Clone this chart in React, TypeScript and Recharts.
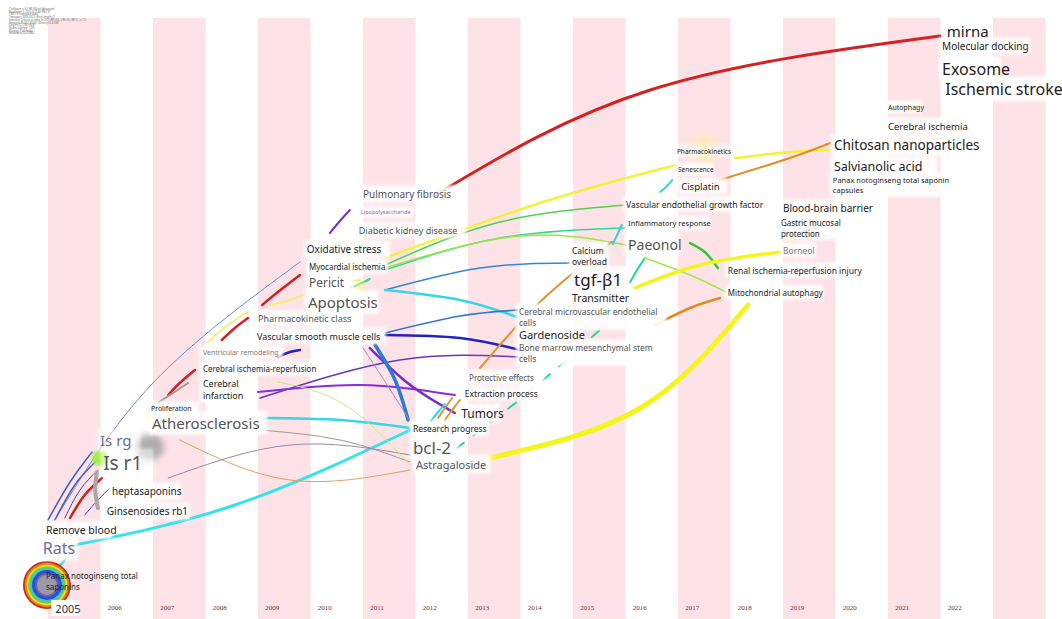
import React from "react";
import { ComposedChart, XAxis, YAxis, Line, Scatter, ReferenceArea } from "recharts";

const W = 1062;
const H = 619;

// time zones (one column per year)
const stripeYears = [2005, 2007, 2009, 2011, 2013, 2015, 2017, 2019, 2021, 2023];
const yearTicks = [2005, 2006, 2007, 2008, 2009, 2010, 2011, 2012, 2013, 2014, 2015, 2016, 2017, 2018, 2019, 2020, 2021, 2022];

const infoLines = [
  "CiteSpace, v. 6.1.R6 (64-bit) Advanced",
  "November 5, 2022 3:12:40 PM CST",
  "CNKI: D:\\citespace\\data",
  "Timespan: 2005-2022 (Slice Length=1)",
  "Selection Criteria: g-index (k=25), LRF=3.0, L/N=10, LBY=5, e=1.0",
  "Network: N=322, E=561 (Density=0.0108)",
  "Largest CC: 290 (90%)",
  "Nodes Labeled: 1.0%",
  "Pruning: Pathfinder",
  "Modularity Q=0.5862",
];

const D = "#222";
const G = "#555";
const L = "#6b6b99";
const M = "#7a7a7a";

// [text, year, row, font size, colour, background opacity]
const keywords: [string, number, number, number, string, number][] = [
  ["mirna", 2022.12, 31, 15, D, 0.9],
  ["Molecular docking", 2022.03, 46, 10, D, 0.9],
  ["Exosome", 2022.03, 69, 16, D, 0.9],
  ["Ischemic stroke", 2022.09, 89, 16, D, 0.9],
  ["Autophagy", 2021.0, 107, 7, D, 0.9],
  ["Cerebral ischemia", 2021.0, 126, 9.5, D, 0.9],
  ["Chitosan nanoparticles", 2019.97, 145, 13.5, D, 0.9],
  ["Salvianolic acid", 2019.97, 166, 12.5, D, 0.9],
  ["Panax notoginseng total saponin\ncapsules", 2019.95, 180, 7.5, D, 0.9],
  ["Blood-brain barrier", 2019.0, 208, 10, D, 0.9],
  ["Gastric mucosal\nprotection", 2018.96, 222, 8, D, 0.9],
  ["Borneol", 2019.0, 250, 8.5, M, 0.9],
  ["Renal ischemia-reperfusion injury", 2017.95, 270, 8.5, D, 0.9],
  ["Mitochondrial autophagy", 2017.95, 292, 8, D, 0.9],
  ["Pharmacokinetics", 2016.98, 151, 6.5, D, 0.6],
  ["Senescence", 2017.0, 169, 6.5, D, 0.9],
  ["Cisplatin", 2017.06, 186, 9.5, D, 0.9],
  ["Vascular endothelial growth factor", 2016.01, 204, 8.5, D, 0.9],
  ["Inflammatory response", 2016.05, 223, 7.5, D, 0.9],
  ["Paeonol", 2016.05, 244, 14, G, 0.9],
  ["Calcium\noverload", 2014.98, 250, 8.5, D, 0.9],
  ["tgf-β1", 2015.02, 279, 17, D, 0.9],
  ["Transmitter", 2014.98, 298, 10.5, D, 0.9],
  ["Cerebral microvascular endothelial\ncells", 2013.97, 311, 8.5, G, 0.9],
  ["Gardenoside", 2013.97, 334, 11, D, 0.9],
  ["Bone marrow mesenchymal stem\ncells", 2013.97, 347, 8.5, G, 0.9],
  ["Protective effects", 2013.02, 377, 8, G, 0.9],
  ["Extraction process", 2012.94, 393, 8.5, D, 0.9],
  ["Tumors", 2012.87, 413, 12, D, 0.9],
  ["Research progress", 2011.95, 428, 8.5, D, 0.9],
  ["bcl-2", 2011.95, 447, 17, G, 0.9],
  ["Astragaloside", 2012.01, 464, 11, G, 0.9],
  ["Pulmonary fibrosis", 2011.0, 194, 10, G, 0.9],
  ["Lipopolysaccharide", 2010.96, 212, 5.5, "#8a6aa8", 0.9],
  ["Diabetic kidney disease", 2010.92, 230, 9, G, 0.9],
  ["Oxidative stress", 2009.93, 249, 10, D, 0.9],
  ["Myocardial ischemia", 2009.97, 266, 8, D, 0.9],
  ["Pericit", 2009.97, 282, 12, G, 0.9],
  ["Apoptosis", 2009.95, 302, 15, G, 0.9],
  ["Pharmacokinetic class", 2009.0, 318, 9, G, 0.9],
  ["Vascular smooth muscle cells", 2008.98, 336, 9, D, 0.9],
  ["Ventricular remodeling", 2007.95, 352, 7, M, 0.9],
  ["Cerebral ischemia-reperfusion", 2007.95, 368, 8, D, 0.9],
  ["Cerebral\ninfarction", 2007.95, 383, 9, D, 0.9],
  ["Proliferation", 2006.96, 408, 7, D, 0.9],
  ["Atherosclerosis", 2006.98, 423, 15, G, 0.9],
  ["Is rg", 2005.99, 440, 15, L, 0.5],
  ["Is r1", 2006.05, 463, 19, G, 0.5],
  ["heptasaponins", 2006.22, 491, 10, D, 0.9],
  ["Ginsenosides rb1", 2006.12, 511, 10, D, 0.9],
  ["Remove blood", 2004.96, 530, 10.5, D, 0.9],
  ["Rats", 2004.9, 548, 16, L, 0.9],
  ["Panax notoginseng total\nsaponins", 2004.96, 575, 8, D, 0],
];

// node glyphs: [kind, year, row, radius]
const glyphs: [string, number, number, number][] = [
  ["glow", 2007.1, 415, 16],
  ["glow", 2017.5, 150, 22],
  ["glow", 2019.13, 248, 13],
  ["glow", 2013.42, 458, 8],
  ["glow", 2010.94, 287, 9],
  ["gray", 2006.94, 447, 13],
  ["lime", 2005.99, 458, 8],
  ["ring", 2004.98, 585, 24],
];

// co-occurrence links: colour, width, three points [year, row] read along the arc
type Link = { c: string; w: number; p: [number, number][]; d?: string };
const links: Link[] = [
  { c: "#d42121", w: 3, p: [[2012.35, 196], [2016.47, 90], [2021.99, 36]] },
  { c: "#35e3ea", w: 3, p: [[2005.32, 547], [2008.56, 505], [2011.9, 430]] },
  { c: "#f5f51e", w: 5, p: [[2013.42, 458], [2016.28, 408], [2018.33, 305]] },
  { c: "#f2f23a", w: 2.5, p: [[2011.42, 258], [2014.37, 203], [2016.96, 165]] },
  { c: "#f2f23a", w: 2.5, p: [[2018.09, 158], [2019.13, 152], [2019.9, 150]] },
  { c: "#e58a1f", w: 2, p: [[2017.8, 180], [2019.13, 158], [2019.9, 143]] },
  { c: "#e58a1f", w: 2, p: [[2021.0, 128], [2021.32, 125], [2021.61, 122]] },
  { c: "#4fd14f", w: 1.5, p: [[2011.42, 265], [2013.61, 222], [2016.01, 205]] },
  { c: "#2fd6a0", w: 1.5, p: [[2011.42, 270], [2013.61, 238], [2015.99, 228]] },
  { c: "#9be63c", w: 1.5, p: [[2011.42, 268], [2013.99, 236], [2016.09, 246]] },
  { c: "#3585d5", w: 1.5, p: [[2011.42, 290], [2013.23, 268], [2014.94, 263]] },
  { c: "#33d6ea", w: 2.5, p: [[2011.42, 290], [2012.85, 300], [2013.99, 318]] },
  { c: "#3575d2", w: 1.5, p: [[2011.42, 333], [2012.85, 316], [2013.99, 310]] },
  { c: "#2222c4", w: 2.5, p: [[2011.42, 335], [2012.85, 338], [2013.99, 350]] },
  { c: "#6a35c0", w: 1.5, p: [[2009.04, 398], [2011.7, 360], [2013.99, 357]] },
  { c: "#8a2be0", w: 2, p: [[2009.0, 392], [2010.94, 385], [2012.75, 395]] },
  { c: "#7a2ac8", w: 2.5, p: [[2011.13, 348], [2011.9, 385], [2012.75, 413]] },
  { c: "#2a7ad8", w: 3.5, p: [[2011.23, 345], [2011.61, 380], [2011.86, 420]] },
  { c: "#a090c0", w: 1, p: [[2011.0, 348], [2011.4, 380], [2011.86, 418]] },
  { c: "#33d6ea", w: 2.5, p: [[2009.04, 418], [2010.56, 420], [2011.9, 428]] },
  { c: "#9a9a9a", w: 1, p: [[2009.04, 430], [2010.56, 440], [2011.9, 462]] },
  { c: "#e0a060", w: 1, p: [[2007.51, 440], [2009.61, 480], [2011.9, 470]] },
  { c: "#9a8aa8", w: 1, p: [[2007.29, 478], [2009.61, 445], [2011.9, 455]] },
  { c: "#5d8fd8", w: 1, p: [[2005.13, 520], [2007.0, 383], [2009.8, 262]] },
  { c: "#c8e68c", w: 1, p: [[2009.38, 382], [2010.66, 405], [2011.9, 465]] },
  { c: "#22d6a0", w: 2, p: [[2012.43, 462], [2014.09, 395], [2015.51, 330]], d: "10 12" },
  { c: "#22d6a0", w: 2, p: [[2016.09, 282], [2016.22, 270], [2016.37, 258]] },
  { c: "#e39030", w: 2, p: [[2013.23, 368], [2014.37, 302], [2015.74, 242]] },
  { c: "#e38a20", w: 2.5, p: [[2016.56, 325], [2017.23, 308], [2017.8, 298]] },
  { c: "#2fc82f", w: 2.5, p: [[2017.23, 243], [2017.51, 252], [2017.76, 268]] },
  { c: "#a5e64a", w: 1.5, p: [[2016.37, 258], [2017.23, 275], [2017.95, 293]] },
  { c: "#f5f51e", w: 3.5, p: [[2016.18, 288], [2017.42, 265], [2018.94, 252]] },
  { c: "#30e0c0", w: 2, p: [[2016.66, 192], [2016.77, 187], [2016.89, 180]] },
  { c: "#30d0e0", w: 2, p: [[2015.76, 244], [2015.85, 234], [2015.93, 225]] },
  { c: "#d02020", w: 2.5, p: [[2009.08, 305], [2009.38, 292], [2009.8, 275]] },
  { c: "#d02020", w: 2.5, p: [[2008.31, 340], [2008.56, 328], [2008.81, 318]] },
  { c: "#f0f07a", w: 2, p: [[2008.05, 342], [2008.43, 325], [2008.81, 312]] },
  { c: "#d02020", w: 2.5, p: [[2007.29, 395], [2007.51, 383], [2007.8, 370]] },
  { c: "#9a9a9a", w: 2, p: [[2006.94, 408], [2007.32, 395], [2007.67, 383]] },
  { c: "#f0f07a", w: 2, p: [[2009.23, 305], [2009.61, 300], [2009.9, 294]] },
  { c: "#7030d0", w: 2, p: [[2010.37, 233], [2010.56, 221], [2010.75, 210]] },
  { c: "#f2f23a", w: 2, p: [[2010.66, 285], [2010.75, 282], [2010.94, 280]] },
  { c: "#2fd6a0", w: 2, p: [[2010.75, 288], [2010.94, 284], [2011.13, 279]] },
  { c: "#4060c0", w: 1.5, p: [[2005.0, 520], [2005.42, 482], [2005.84, 452]] },
  { c: "#5060b0", w: 1.5, p: [[2005.13, 520], [2005.51, 485], [2005.9, 462]] },
  { c: "#4050a0", w: 1, p: [[2005.32, 518], [2005.61, 490], [2005.95, 470]] },
  { c: "#d02020", w: 2.5, p: [[2005.42, 518], [2005.7, 495], [2006.03, 478]] },
  { c: "#6040c0", w: 1, p: [[2005.7, 515], [2005.95, 500], [2006.18, 488]] },
  { c: "#a8a8a8", w: 4, p: [[2005.93, 472], [2005.9, 490], [2005.95, 508]] },
  { c: "#35e3ea", w: 2.5, p: [[2005.23, 565], [2005.29, 562], [2005.34, 558]] },
  { c: "#2222c4", w: 2.5, p: [[2009.38, 357], [2009.61, 352], [2009.8, 350]] },
  { c: "#e39030", w: 2, p: [[2012.43, 418], [2012.56, 408], [2012.7, 398]] },
  { c: "#e39030", w: 2, p: [[2012.56, 420], [2012.7, 410], [2012.85, 400]] },
  { c: "#33d6ea", w: 2, p: [[2012.28, 422], [2012.43, 412], [2012.56, 404]] },
];

const labelData = keywords.map(([t, x, y, s, c, bg]) => ({ t, x, y, s, c, bg }));
const glyphData = glyphs.map(([k, x, y, r]) => ({ k, x, y, r }));
const tickData = yearTicks.map((yr) => ({ t: String(yr), x: yr + 0.14, y: 608 }));

const FONT = "'Noto Sans', 'DejaVu Sans', sans-serif";

function boxSize(t: string, s: number) {
  const lines = t.split("\n");
  const lh = s * 1.32;
  const w = Math.max(...lines.map((l) => l.length)) * s * 0.5 + 6;
  const h = (lines.length - 1) * lh + s * 1.3 + 4;
  return { lines, lh, w, h };
}

function LabelBg(props: any) {
  const { cx, cy, payload } = props;
  if (!payload.bg) return <g />;
  const { w, h } = boxSize(payload.t, payload.s);
  return (
    <rect x={cx - 3} y={cy - payload.s * 0.65 - 2} width={w} height={h} fill="#fff" opacity={payload.bg} filter="url(#soft)" />
  );
}

function LabelText(props: any) {
  const { cx, cy, payload } = props;
  const { lines, lh } = boxSize(payload.t, payload.s);
  return (
    <text x={cx} y={cy} fontSize={payload.s} fill={payload.c} fontFamily={FONT} dominantBaseline="central">
      {lines.map((l, i) => (
        <tspan key={i} x={cx} dy={i === 0 ? 0 : lh}>
          {l}
        </tspan>
      ))}
    </text>
  );
}

const RINGS = ["#b83a1c", "#f07a20", "#f5dd22", "#6cd040", "#30c8e0", "#3050c8", "#7060b0", "#9a9aaa"];

function Glyph(props: any) {
  const { cx, cy, payload } = props;
  const r = payload.r;
  if (payload.k === "ring") {
    return (
      <g>
        <defs>
          <filter id="soft" x="-20%" y="-20%" width="140%" height="140%">
            <feGaussianBlur stdDeviation="1.5" />
          </filter>
          <filter id="blur3" x="-50%" y="-50%" width="200%" height="200%">
            <feGaussianBlur stdDeviation="3" />
          </filter>
          <radialGradient id="glowY">
            <stop offset="0%" stopColor="#ffe680" stopOpacity={0.9} />
            <stop offset="100%" stopColor="#fff3c0" stopOpacity={0} />
          </radialGradient>
        </defs>
        {RINGS.map((c, i) => (
          <circle key={i} cx={cx} cy={cy} r={r - i * 1.8 - (i > 5 ? 1.5 : 0)} fill={c} />
        ))}
      </g>
    );
  }
  if (payload.k === "glow") return <circle cx={cx} cy={cy} r={r} fill="url(#glowY)" />;
  if (payload.k === "gray")
    return <ellipse cx={cx} cy={cy} rx={r * 1.1} ry={r} fill="#a8a8a8" opacity={0.9} filter="url(#blur3)" />;
  return <circle cx={cx} cy={cy} r={r} fill="#a4ec46" filter="url(#soft)" />;
}

function YearTick(props: any) {
  const { cx, cy, payload } = props;
  const first = payload.t === "2005";
  return (
    <g>
      {first && <rect x={cx - 4} y={cy - 8} width={28} height={16} fill="#fff" />}
      <text
        x={cx}
        y={cy}
        fontSize={first ? 11 : 7}
        fill={first ? "#333" : "#7a2a2a"}
        fontFamily={first ? FONT : "'Liberation Serif', serif"}
        dominantBaseline="central"
      >
        {payload.t}
      </text>
    </g>
  );
}

export default function App() {
  return (
    <div style={{ position: "absolute", left: 0, top: 0, width: W, height: H, background: "#fff" }}>
      <ComposedChart width={W} height={H} margin={{ top: 0, right: 0, bottom: 0, left: 0 }}>
        <XAxis type="number" dataKey="x" domain={[2004.0857, 2024.3143]} allowDataOverflow hide />
        <YAxis type="number" dataKey="y" domain={[0, H]} reversed allowDataOverflow hide />
        {stripeYears.map((yr) => (
          <ReferenceArea key={yr} x1={yr} x2={yr + 1} y1={18} y2={H} fill="#fde3e7" fillOpacity={1} stroke="none" ifOverflow="hidden" />
        ))}
        {links.map((lk, i) => (
          <Line
            key={i}
            data={lk.p.map(([x, y]) => ({ x, y }))}
            dataKey="y"
            type="natural"
            stroke={lk.c}
            strokeWidth={lk.w}
            strokeDasharray={lk.d}
            strokeLinecap="round"
            dot={false}
            activeDot={false}
            legendType="none"
            isAnimationActive={false}
          />
        ))}
        <Scatter data={glyphData} dataKey="y" shape={Glyph} isAnimationActive={false} />
        <Scatter data={labelData} dataKey="y" shape={LabelBg} isAnimationActive={false} />
        <Scatter data={labelData} dataKey="y" shape={LabelText} isAnimationActive={false} />
        <Scatter data={tickData} dataKey="y" shape={YearTick} isAnimationActive={false} />
      </ComposedChart>
      <svg width={120} height={40} style={{ position: "absolute", left: 0, top: 0 }}>
        {infoLines.map((l, i) => (
          <text key={i} x={9} y={10 + i * 2.7} fontSize={2.6} fill="#666" fontFamily={FONT}>
            {l}
          </text>
        ))}
      </svg>
    </div>
  );
}
